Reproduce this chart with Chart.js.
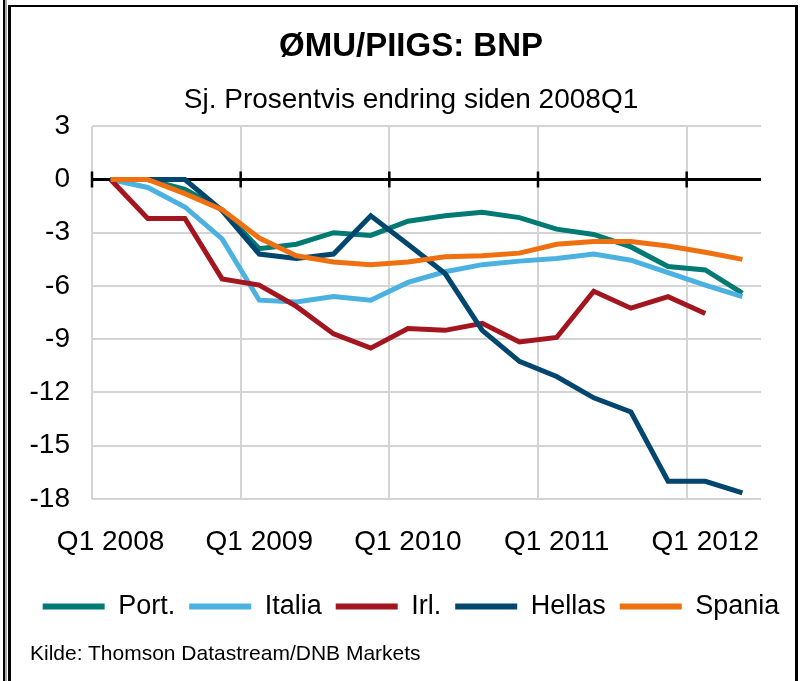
<!DOCTYPE html>
<html><head><meta charset="utf-8">
<script src="https://cdn.jsdelivr.net/npm/chart.js@4"></script>
<style>
html,body{margin:0;padding:0;background:#fff;}
#wrap{position:relative;width:802px;height:681px;overflow:hidden;background:#fff;}
canvas{position:absolute;left:0;top:0;}
.l1{position:absolute;left:3px;top:0;width:2px;height:681px;background:#000;}
.l2{position:absolute;left:5px;top:0;width:2px;height:681px;background:#aaa;}
.frame{position:absolute;left:8px;top:5px;width:790px;height:676px;box-sizing:border-box;border-left:3px solid #000;border-top:2px solid #000;border-right:3px solid #000;}
#src{position:absolute;left:30px;top:642px;font-family:'Liberation Sans',Arial,sans-serif;font-size:21px;line-height:21px;color:#000;white-space:nowrap;}
</style></head>
<body>
<div id="wrap">
<canvas id="c" width="802" height="681"></canvas>
<div class="l1"></div><div class="l2"></div><div class="frame"></div>
<div id="src">Kilde: Thomson Datastream/DNB Markets</div>
</div>
<script>
const quarters = ['Q1 2008','Q2 2008','Q3 2008','Q4 2008','Q1 2009','Q2 2009','Q3 2009','Q4 2009','Q1 2010','Q2 2010','Q3 2010','Q4 2010','Q1 2011','Q2 2011','Q3 2011','Q4 2011','Q1 2012','Q2 2012'];
const yTicks = [3,0,-3,-6,-9,-12,-15,-18];
const seriesNames = ['Port.','Italia','Irl.','Hellas','Spania'];
const port   = [0,0,-0.55,-1.7,-3.9,-3.65,-3.0,-3.15,-2.35,-2.05,-1.85,-2.15,-2.8,-3.1,-3.8,-4.9,-5.1,-6.4];
const italia = [0,-0.45,-1.55,-3.35,-6.8,-6.9,-6.6,-6.8,-5.8,-5.2,-4.8,-4.6,-4.45,-4.2,-4.55,-5.25,-5.95,-6.6];
const irl    = [0,-2.2,-2.2,-5.6,-5.95,-7.15,-8.7,-9.5,-8.4,-8.5,-8.1,-9.15,-8.9,-6.3,-7.25,-6.6,-7.55,null];
const hellas = [0,0,0,-1.75,-4.2,-4.45,-4.2,-2.05,-3.65,-5.3,-8.5,-10.25,-11.1,-12.3,-13.1,-17.0,-17.0,-17.65];
const spania = [0,0,-0.8,-1.7,-3.3,-4.3,-4.65,-4.8,-4.65,-4.35,-4.3,-4.15,-3.65,-3.5,-3.5,-3.75,-4.1,-4.5];
const colors = ['#007A73','#4BB1E0','#A3151F','#00466E','#EE7011'];

const FONT = "'Liberation Sans', Arial, sans-serif";
const allSeries = [port, italia, irl, hellas, spania];

const zeroTicks = {
  id: 'zeroTicks',
  beforeDatasetsDraw(chart) {
    const {ctx, scales: {x, y}, chartArea} = chart;
    const y0 = y.getPixelForValue(0);
    const half = (x.getPixelForValue(1) - x.getPixelForValue(0)) / 2;
    ctx.save();
    ctx.strokeStyle = '#000';
    ctx.lineWidth = 3;
    ctx.beginPath(); ctx.moveTo(chartArea.left, y0); ctx.lineTo(chartArea.right, y0); ctx.stroke();
    ctx.lineWidth = 2.5;
    for (let i = 0; i < quarters.length; i += 4) {
      const px = x.getPixelForValue(i) - half;
      ctx.beginPath(); ctx.moveTo(px, y0 - 8); ctx.lineTo(px, y0 + 8); ctx.stroke();
    }
    ctx.restore();
  }
};

new Chart(document.getElementById('c'), {
  type: 'line',
  data: {
    labels: quarters,
    datasets: allSeries.map((d, i) => ({
      label: seriesNames[i],
      data: d,
      borderColor: colors[i],
      backgroundColor: colors[i],
      borderWidth: 5,
      pointRadius: 0,
      tension: 0,
      fill: false,
      order: 5 - i
    }))
  },
  options: {
    responsive: false,
    devicePixelRatio: 1,
    animation: false,
    layout: {padding: {top: 8, left: 20, right: 0, bottom: 51}},
    plugins: {
      tooltip: {enabled: false},
      title: {display: true, text: 'ØMU/PIIGS: BNP', color: '#000',
        font: {family: FONT, size: 33, weight: 'bold'}, padding: {top: 19, bottom: 8}},
      subtitle: {display: true, text: 'Sj. Prosentvis endring siden 2008Q1', color: '#000',
        font: {family: FONT, size: 28}, padding: {top: 9, bottom: 9}},
      legend: {
        position: 'bottom',
        labels: {
          color: '#000', font: {family: FONT, size: 27},
          boxWidth: 62, boxHeight: 6, padding: 14,
          generateLabels(chart) {
            const items = Chart.defaults.plugins.legend.labels.generateLabels(chart);
            items.forEach(it => { it.lineWidth = 0; });
            return items.sort((a, b) => a.datasetIndex - b.datasetIndex);
          }
        }
      }
    },
    scales: {
      x: {
        offset: true,
        grid: {offset: true, drawTicks: false, lineWidth: 2,
          color: ctx => (ctx.index % 4 === 0 ? '#d4d4d4' : 'rgba(0,0,0,0)')},
        border: {display: false},
        ticks: {autoSkip: false, maxRotation: 0, minRotation: 0, padding: 26, color: '#000',
          font: {family: FONT, size: 28},
          callback: (v, i) => (i % 4 === 0 ? quarters[i] : '')},
        afterFit: s => { s.height = 80; }
      },
      y: {
        min: yTicks[yTicks.length - 1], max: yTicks[0],
        grid: {drawTicks: false, lineWidth: 2,
          color: ctx => (ctx.tick && ctx.tick.value === 0 ? 'rgba(0,0,0,0)' : '#d4d4d4')},
        border: {display: false},
        ticks: {stepSize: 3, padding: 22, color: '#000', font: {family: FONT, size: 28}},
        afterFit: s => { s.width = 72; }
      },
      yRight: {
        position: 'right',
        display: true,
        min: yTicks[yTicks.length - 1], max: yTicks[0],
        grid: {display: false, drawTicks: false},
        border: {display: false},
        ticks: {display: false},
        afterFit: s => { s.width = 41; }
      }
    }
  },
  plugins: [zeroTicks]
});
</script>
</body></html>
